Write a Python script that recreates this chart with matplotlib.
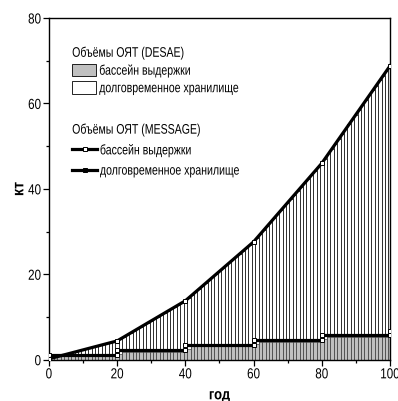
import matplotlib
matplotlib.use("Agg")
import matplotlib.pyplot as plt
from matplotlib.patches import Patch
from matplotlib.lines import Line2D
from matplotlib.ticker import MultipleLocator
from matplotlib.patheffects import AbstractPathEffect
from matplotlib.transforms import Affine2D

plt.rcParams['font.family'] = ['Liberation Sans', 'DejaVu Sans']

# DESAE yearly volumes (kt)
years = list(range(0, 101))
desae_storage = [
    0.2, 0.4, 0.6, 0.8, 1.0, 1.3, 1.5, 1.7, 1.9, 2.1, 2.3, 2.5, 2.7, 2.9, 3.1, 3.4, 3.6, 3.8, 4.0, 4.2,
    4.4, 4.9, 5.3, 5.8, 6.3, 6.8, 7.2, 7.7, 8.2, 8.6, 9.1, 9.6, 10.0, 10.5, 11.0, 11.5, 11.9, 12.4, 12.9, 13.3,
    13.8, 14.5, 15.2, 15.9, 16.6, 17.3, 17.9, 18.6, 19.3, 20.0, 20.7, 21.4, 22.1, 22.8, 23.5, 24.2, 24.8, 25.5, 26.2, 26.9,
    27.6, 28.5, 29.4, 30.4, 31.3, 32.2, 33.1, 34.0, 35.0, 35.9, 36.8, 37.7, 38.6, 39.6, 40.5, 41.4, 42.3, 43.2, 44.2, 45.1,
    46.0, 47.1, 48.3, 49.4, 50.6, 51.7, 52.8, 54.0, 55.1, 56.3, 57.4, 58.5, 59.7, 60.8, 62.0, 63.1, 64.2, 65.4, 66.5, 67.7,
    68.8,
]
desae_pool = [
    0.9, 0.9, 0.9, 0.9, 0.9, 0.9, 0.9, 0.9, 0.9, 0.9, 0.9, 0.9, 0.9, 0.9, 0.9, 0.9, 0.9, 0.9, 0.9, 0.9,
    0.9, 1.4, 1.9, 1.9, 1.9, 1.9, 1.9, 1.9, 1.9, 1.9, 1.9, 1.9, 1.9, 1.9, 1.9, 1.9, 1.9, 1.9, 1.9, 1.9,
    1.9, 2.5, 3.1, 3.1, 3.1, 3.1, 3.1, 3.1, 3.1, 3.1, 3.1, 3.1, 3.1, 3.1, 3.1, 3.1, 3.1, 3.1, 3.1, 3.1,
    3.1, 3.6, 4.1, 4.1, 4.1, 4.1, 4.1, 4.1, 4.1, 4.1, 4.1, 4.1, 4.1, 4.1, 4.1, 4.1, 4.1, 4.1, 4.1, 4.1,
    4.1, 4.8, 5.4, 5.4, 5.4, 5.4, 5.4, 5.4, 5.4, 5.4, 5.4, 5.4, 5.4, 5.4, 5.4, 5.4, 5.4, 5.4, 5.4, 5.4,
    5.4,
]

# MESSAGE volumes (kt)
message_years = [0, 20, 40, 60, 80, 100]
message_storage = [0.2, 4.4, 13.8, 27.6, 46.0, 68.8]
message_pool_levels = [1.2, 2.3, 3.5, 4.5, 5.8, 6.8]  # level held from each year to the next

label_desae = "Объёмы ОЯТ (DESAE)"
label_message = "Объёмы ОЯТ (MESSAGE)"
label_pool = "бассейн выдержки"
label_storage = "долговременное хранилище"


class Narrow(AbstractPathEffect):
    """Horizontally condense text glyphs (emulates a narrow typeface)."""
    def __init__(self, sx=0.8, pivot='left'):
        super().__init__()
        self.sx = sx
        self.pivot = pivot

    def draw_path(self, renderer, gc, tpath, affine, rgbFace=None):
        ext = tpath.get_extents()
        if self.pivot == 'center':
            px = (ext.x0 + ext.x1) / 2
        elif self.pivot == 'right':
            px = ext.x1
        else:
            px = 0.0
        pre = Affine2D().translate(-px, 0).scale(self.sx, 1).translate(px, 0)
        renderer.draw_path(gc, tpath, pre + affine, rgbFace)


fig = plt.figure(figsize=(3.98, 4.02), dpi=100)
ax = fig.add_axes([0.123, 0.1027, 0.857, 0.850])

ax.bar(years, desae_storage, width=1.0, color='white', edgecolor='black', linewidth=0.5, zorder=1)
ax.bar(years, desae_pool, width=1.0, color='#c0c0c0', edgecolor='#404040', linewidth=0.5, zorder=2)

# step line for MESSAGE pool
sx, sy = [], []
for i in range(len(message_years) - 1):
    sx += [message_years[i], message_years[i + 1]]
    sy += [message_pool_levels[i], message_pool_levels[i]]
sx.append(message_years[-1])
sy.append(message_pool_levels[-1])

ax.plot(sx, sy, color='black', lw=2.3, marker='s', ms=3.5, mfc='white', mec='black', mew=0.7, zorder=4)
ax.plot(message_years, message_storage, color='black', lw=2.3, marker='s', ms=3.5, mfc='white',
        mec='black', mew=0.7, zorder=4)

ax.set_xlim(0, 100)
ax.set_ylim(0, 80)
ax.xaxis.set_major_locator(MultipleLocator(20))
ax.xaxis.set_minor_locator(MultipleLocator(10))
ax.yaxis.set_major_locator(MultipleLocator(20))
ax.yaxis.set_minor_locator(MultipleLocator(10))
ax.tick_params(which='major', direction='out', length=4, width=0.9, labelsize=10.5, pad=1.5)
ax.tick_params(which='minor', direction='out', length=2.5, width=0.9)
for s in ax.spines.values():
    s.set_linewidth(1.0)
for t in ax.xaxis.get_major_ticks():
    t.label1.set_path_effects([Narrow(0.8, 'center')])
for t in ax.yaxis.get_major_ticks():
    t.label1.set_path_effects([Narrow(0.8, 'right')])

xl = ax.set_xlabel("год", fontsize=11, fontweight='bold', labelpad=5)
yl = ax.set_ylabel("кт", fontsize=11.5, fontweight='bold', labelpad=-1)
xl.set_path_effects([Narrow(0.85, 'center')])
yl.set_path_effects([Narrow(0.9, 'center')])

h1 = [Patch(facecolor='#c0c0c0', edgecolor='black', linewidth=0.6),
      Patch(facecolor='white', edgecolor='black', linewidth=0.6)]
leg1 = ax.legend(h1, [label_pool, label_storage], title=label_desae, loc='upper left',
                 bbox_to_anchor=(0.068, 0.92), frameon=False, fontsize=10, title_fontsize=10,
                 handlelength=1.75, handleheight=1.0, handletextpad=0.2, labelspacing=0.25,
                 alignment='left', borderaxespad=0, borderpad=0)
ax.add_artist(leg1)
h2 = [Line2D([], [], color='black', lw=2.3, marker='s', ms=3.5, mfc='white', mec='black', mew=0.7),
      Line2D([], [], color='black', lw=2.3, marker='s', ms=3.5, mfc='black', mec='black', mew=0.7)]
leg2 = ax.legend(h2, [label_pool, label_storage], title=label_message, loc='upper left',
                 bbox_to_anchor=(0.068, 0.695), frameon=False, fontsize=10, title_fontsize=10,
                 handlelength=1.8, handletextpad=0.2, labelspacing=0.45,
                 alignment='left', borderaxespad=0, borderpad=0)
for leg in (leg1, leg2):
    for txt in leg.get_texts():
        txt.set_path_effects([Narrow(0.76, 'left')])
    leg.get_title().set_path_effects([Narrow(0.76, 'left')])

fig.savefig("out.png", dpi=100)
